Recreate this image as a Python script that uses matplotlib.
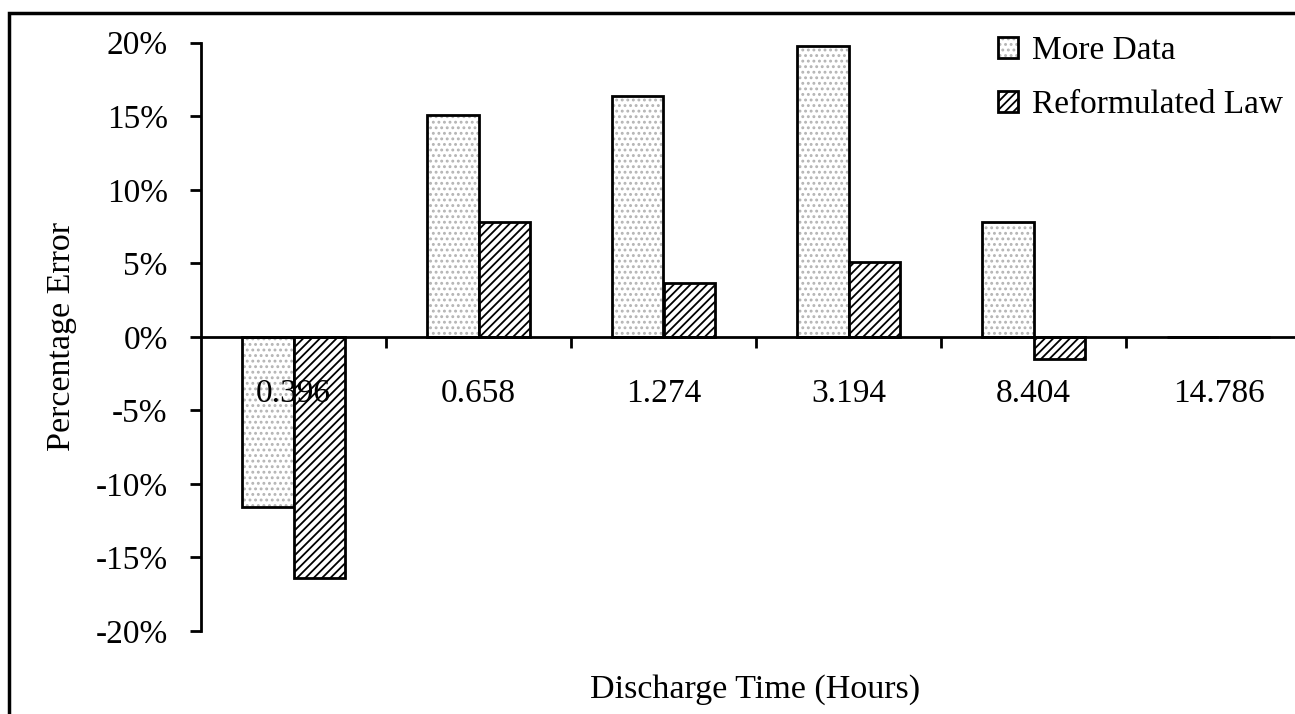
import matplotlib.pyplot as plt
import matplotlib.patches as mpatches
from matplotlib.legend_handler import HandlerTuple
import numpy as np

plt.rcParams['font.family'] = ['Liberation Serif', 'DejaVu Serif']
plt.rcParams['hatch.linewidth'] = 1.3

# data (percentage error)
categories = ["0.396", "0.658", "1.274", "3.194", "8.404", "14.786"]
more_data = [-11.6, 15.1, 16.4, 19.8, 7.8, 0.0]
reformulated = [-16.4, 7.8, 3.65, 5.1, -1.5, 0.0]
yticks = [-20, -15, -10, -5, 0, 5, 10, 15, 20]

fig = plt.figure(figsize=(12.95, 7.14), dpi=100)
# axes runs past the right edge like the original crop
ax = fig.add_axes([201 / 1295, 1 - 631 / 714, 1110 / 1295, (631 - 42.7) / 714])

x = np.arange(len(categories))
w = 0.28
pos_md = x - w / 2
pos_rf = x + w / 2
md_vals = [v / 100 for v in more_data]
rf_vals = [v / 100 for v in reformulated]

b1 = ax.bar(pos_md, md_vals, w, color='white', hatch='...', edgecolor='#b4b4b4', linewidth=0)
b1e = ax.bar(pos_md, md_vals, w, fill=False, edgecolor='black', linewidth=2)
b2 = ax.bar(pos_rf, rf_vals, w, color='white', hatch='////', edgecolor='black', linewidth=2)

ax.set_xlim(-0.5, len(categories) - 0.5)
ax.set_ylim(-0.2, 0.2)

ax.spines['top'].set_visible(False)
ax.spines['right'].set_visible(False)
ax.spines['bottom'].set_position(('data', 0))
ax.spines['left'].set_linewidth(2)
ax.spines['bottom'].set_linewidth(2)
ax.spines['bottom'].set_zorder(3)

ax.set_yticks([t / 100 for t in yticks])
ax.set_yticklabels([f"{t}%" for t in yticks], fontsize=24)
ax.tick_params(axis='y', direction='out', length=8, width=2, pad=16)

ax.set_xticks(np.arange(len(categories)) + 0.5)
ax.set_xticklabels([])
ax.set_xticks(x, minor=True)
ax.set_xticklabels(categories, minor=True, fontsize=24)
ax.tick_params(axis='x', which='major', direction='out', length=8, width=2)
ax.tick_params(axis='x', which='minor', length=0, pad=30)

ax.set_ylabel("Percentage Error", fontsize=24.5)
ax.yaxis.set_label_coords(-0.112, 0.5)
fig.text(755 / 1295, 1 - 690 / 714, "Discharge Time (Hours)", fontsize=24.5,
         ha='center', va='center')

# legend
handles = [(b1[0], b1e[0]), b2[0]]
fig.legend(handles, ["More Data", "Reformulated Law"],
           handler_map={tuple: HandlerTuple(ndivide=1)},
           loc='upper left', bbox_to_anchor=(985 / 1295, 1 - 22 / 714),
           frameon=False, fontsize=24, handlelength=0.6, handleheight=0.6,
           handletextpad=0.4, labelspacing=0.72, borderaxespad=0)

# outer frame (cropped on right/bottom)
frame = mpatches.Rectangle((9 / 1295, -0.5), 2, 1 - 12.7 / 714 + 0.5,
                           transform=fig.transFigure, fill=False,
                           edgecolor='black', linewidth=2.5, clip_on=False)
fig.add_artist(frame)

fig.savefig("out.png", dpi=100)
